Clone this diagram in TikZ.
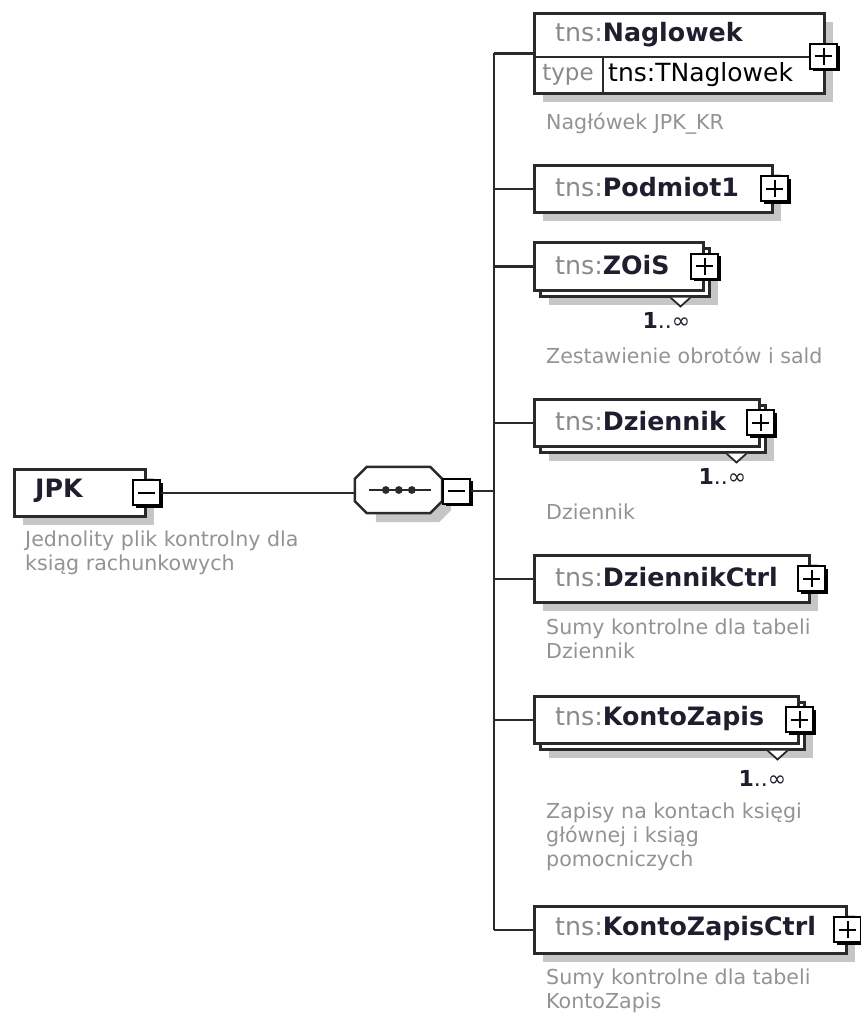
\documentclass[tikz,border=0pt]{standalone}
\usepackage{fontspec}
\setmainfont{DejaVu Sans}
\usetikzlibrary{shadows}
\definecolor{shd}{HTML}{C6C6C6}
\definecolor{bord}{HTML}{2A2A2A}
\definecolor{tnsgray}{HTML}{8A8A8A}
\definecolor{namecol}{HTML}{1E1E2E}
\definecolor{descgray}{HTML}{939393}
\tikzset{
  elem/.style={draw=bord, line width=2.5pt, fill=white, rectangle, inner sep=0, anchor=north west},
  shadowed/.style={general shadow={fill=shd, shadow xshift=9pt, shadow yshift=-9pt}},
  nm/.style={font=\fontsize{25.3}{30}\selectfont, text=namecol, inner sep=0, anchor=west},
  desc/.style={font=\fontsize{20.6}{24}\selectfont, text=descgray, align=left, inner sep=0, anchor=north west},
  mult/.style={font=\fontsize{22}{26}\selectfont, text=namecol, inner sep=0, anchor=east},
  btn/.style={draw=black, line width=2pt, fill=white, minimum width=27pt, minimum height=25pt, inner sep=0,
    general shadow={fill=black, shadow xshift=2.5pt, shadow yshift=-2.5pt}},
  plusbtn/.style={btn, path picture={
    \draw[line width=2pt] ([xshift=5pt]path picture bounding box.west) -- ([xshift=-5pt]path picture bounding box.east);
    \draw[line width=2pt] ([yshift=-4pt]path picture bounding box.north) -- ([yshift=4pt]path picture bounding box.south);}},
  minusbtn/.style={btn, path picture={
    \draw[line width=2pt] ([xshift=5pt]path picture bounding box.west) -- ([xshift=-5pt]path picture bounding box.east);}},
  conn/.style={draw=bord, line width=2.5pt},
  tri/.style={draw=bord, line width=1.8pt, fill=white, line join=miter},
}
\newcommand{\tns}[1]{\textcolor{tnsgray}{tns:}\textbf{#1}}
\begin{document}
\begin{tikzpicture}[x=1pt,y=-1pt]
\useasboundingbox (0,0) rectangle (861,1018);

% ---------- root JPK ----------
\node[elem, shadowed, minimum width=131pt, minimum height=47pt] (jpk) at (13,468) {};
\node[nm, font=\fontsize{25.3}{30}\selectfont\bfseries] (jpkt) at (35,491) {JPK};
\node[minusbtn] (jpkbtn) at (jpk.east) {};
\node[desc] (jpkd) at (25,531) {Jednolity plik kontrolny dla\\ksiąg rachunkowych};

% ---------- sequence ----------
\node[minimum width=87pt, minimum height=46pt, inner sep=0] (seq) at (398.5,490) {};
\fill[shd] ([xshift=21pt,yshift=-9pt]seq.north west) -- ([xshift=-3pt,yshift=-9pt]seq.north east) -- ([xshift=9pt,yshift=-21pt]seq.north east) -- ([xshift=9pt,yshift=3pt]seq.south east) -- ([xshift=-3pt,yshift=-9pt]seq.south east) -- ([xshift=21pt,yshift=-9pt]seq.south west) -- cycle;
\draw[conn, fill=white] ([xshift=12pt]seq.north west) -- ([xshift=-12pt]seq.north east) -- ([yshift=-12pt]seq.north east) -- ([yshift=12pt]seq.south east) -- ([xshift=-12pt]seq.south east) -- ([xshift=12pt]seq.south west) -- ([yshift=12pt]seq.south west) -- ([yshift=-12pt]seq.north west) -- cycle;
\draw[line width=1.8pt, draw=bord] ([xshift=14pt]seq.west) -- ([xshift=-11pt]seq.east);
\foreach \dx in {31,44,57} \fill[bord] ([xshift=\dx pt]seq.west) circle (3.9pt);
\node[minusbtn, anchor=west] (seqbtn) at ([yshift=-1pt]seq.east) {};

\coordinate (bus) at (494,491);

% ---------- Naglowek ----------
\node[elem, shadowed, minimum width=290pt, minimum height=80pt] (nag) at (533,12) {};
\draw[line width=1.8pt, draw=bord] (533,57) -- (823,57);
\draw[line width=1.8pt, draw=bord] (603,57) -- (603,92);
\node[nm] (nagt) at (555,35) {\tns{Naglowek}};
\node[nm, font=\fontsize{23}{28}\selectfont, text=tnsgray, anchor=center] (nagty) at (568,75) {type};
\node[nm, font=\fontsize{25}{28}\selectfont, text=black] (nagtt) at (608,75) {tns:TNaglowek};
\node[plusbtn] (nagbtn) at ([xshift=-2pt,yshift=-3pt]nag.east) {};
\node[desc] (nagd) at (546,113) {Nagłówek JPK\_KR};

% ---------- Podmiot1 ----------
\node[elem, shadowed, minimum width=238pt, minimum height=47pt] (pod) at (533,164) {};
\node[nm] (podt) at (555,187.5) {\tns{Podmiot1}};
\node[plusbtn] (podbtn) at ([xshift=1pt]pod.east) {};

% ---------- ZOiS ----------
\node[elem, shadowed, minimum width=169pt, minimum height=48pt] (zoisb) at (539,247) {};
\node[elem, minimum width=169pt, minimum height=48pt] (zois) at (533,241) {};
\node[nm] (zoist) at (555,265) {\tns{ZOiS}};
\node[plusbtn] (zoisbtn) at (zois.east) {};
\filldraw[tri] ([xshift=-40pt]zoisb.south east) -- ([xshift=-30pt,yshift=-9pt]zoisb.south east) -- ([xshift=-20pt]zoisb.south east);
\node[mult] (zoism) at ([xshift=-20pt,yshift=-23pt]zoisb.south east) {\textbf{1}..∞};
\node[desc] (zoisd) at (546,347) {Zestawienie obrotów i sald};

% ---------- Dziennik ----------
\node[elem, shadowed, minimum width=225pt, minimum height=47pt] (dzb) at (539,404) {};
\node[elem, minimum width=225pt, minimum height=47pt] (dz) at (533,398) {};
\node[nm] (dzt) at (555,421.5) {\tns{Dziennik}};
\node[plusbtn] (dzbtn) at (dz.east) {};
\filldraw[tri] ([xshift=-40pt]dzb.south east) -- ([xshift=-30pt,yshift=-9pt]dzb.south east) -- ([xshift=-20pt]dzb.south east);
\node[mult] (dzm) at ([xshift=-20pt,yshift=-23pt]dzb.south east) {\textbf{1}..∞};
\node[desc] (dzd) at (546,504) {Dziennik};

% ---------- DziennikCtrl ----------
\node[elem, shadowed, minimum width=275pt, minimum height=47pt] (dzc) at (533,554) {};
\node[nm] (dzct) at (555,577.5) {\tns{DziennikCtrl}};
\node[plusbtn] (dzcbtn) at ([xshift=1pt]dzc.east) {};
\node[desc] (dzcd) at (546,619) {Sumy kontrolne dla tabeli\\Dziennik};

% ---------- KontoZapis ----------
\node[elem, shadowed, minimum width=264pt, minimum height=47pt] (kzb) at (539,701) {};
\node[elem, minimum width=264pt, minimum height=47pt] (kz) at (533,695) {};
\node[nm] (kzt) at (555,718.5) {\tns{KontoZapis}};
\node[plusbtn] (kzbtn) at (kz.east) {};
\filldraw[tri] ([xshift=-38pt]kzb.south east) -- ([xshift=-28pt,yshift=-9pt]kzb.south east) -- ([xshift=-18pt]kzb.south east);
\node[mult] (kzm) at ([xshift=-19pt,yshift=-28pt]kzb.south east) {\textbf{1}..∞};
\node[desc] (kzd) at (546,803) {Zapisy na kontach księgi\\głównej i ksiąg\\pomocniczych};

% ---------- KontoZapisCtrl ----------
\node[elem, shadowed, minimum width=312pt, minimum height=47pt] (kzc) at (533,905) {};
\node[nm] (kzct) at (555,928.5) {\tns{KontoZapisCtrl}};
\node[plusbtn] (kzcbtn) at ([xshift=0pt]kzc.east) {};
\node[desc] (kzcd) at (546,969) {Sumy kontrolne dla tabeli\\KontoZapis};

% ---------- connectors ----------
\draw[conn] (jpkbtn.east) -- (jpkbtn.east -| seq.west);
\draw[conn] (seqbtn.east) -- (seqbtn.east -| bus);
\draw[conn] (nag.west -| bus) -- (kzc.west -| bus);
\foreach \n in {nag,pod,zois,dz,dzc,kz,kzc}
  \draw[conn] (\n.west -| bus) -- (\n.west);
\end{tikzpicture}
\end{document}
